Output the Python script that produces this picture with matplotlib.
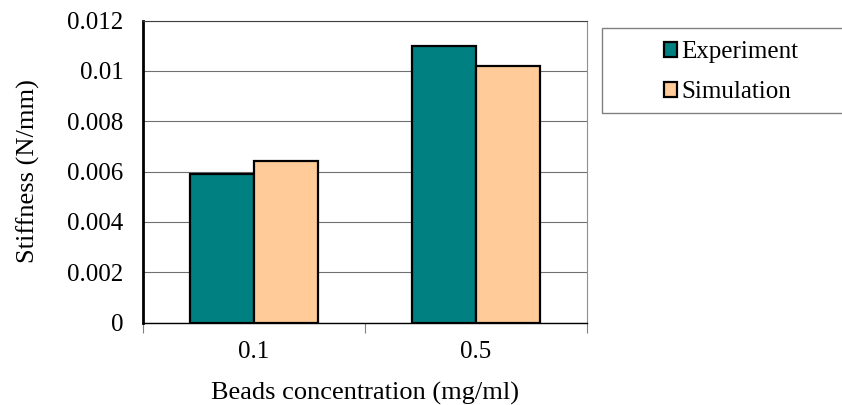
import matplotlib
matplotlib.use("Agg")
import matplotlib.pyplot as plt
import numpy as np
from matplotlib.patches import Rectangle

categories = ["0.1", "0.5"]
experiment = [0.0059, 0.0110]
simulation = [0.0064, 0.0102]
series_names = ["Experiment", "Simulation"]
yticks = [0, 0.002, 0.004, 0.006, 0.008, 0.01, 0.012]
ytick_labels = ["0", "0.002", "0.004", "0.006", "0.008", "0.01", "0.012"]

plt.rcParams['font.family'] = ['Liberation Serif', 'DejaVu Serif']
W, H = 842, 405
fig = plt.figure(figsize=(W/100, H/100), dpi=100)
L, R, T, B = 143, 587, 20.5, 322.5
ax = fig.add_axes([L/W, 1-B/H, (R-L)/W, (B-T)/H])

x = np.arange(len(categories))
bw = 64/222
ax.bar(x - bw/2, experiment, bw, color='#008080', edgecolor='black', linewidth=1.6, zorder=3, label=series_names[0])
ax.bar(x + bw/2, simulation, bw, color='#FFCC99', edgecolor='black', linewidth=1.6, zorder=3, label=series_names[1])

ax.set_xlim(-0.5, len(categories) - 0.5)
ax.set_ylim(0, 0.012)
ax.set_yticks(yticks)
ax.set_yticklabels(ytick_labels, fontsize=18)
ax.set_xticks(x)
ax.set_xticklabels(categories, fontsize=18)
ax.tick_params(axis='x', length=0, pad=13)
ax.tick_params(axis='y', length=0, pad=14)
ax.set_xticks(np.arange(-0.5, len(categories), 1), minor=True)
ax.tick_params(axis='x', which='minor', length=7, color='#808080', width=0.8)
ax.yaxis.grid(True, color='#707070', linewidth=0.8, zorder=0)
ax.set_axisbelow(True)
ax.spines['top'].set_color('#404040'); ax.spines['top'].set_linewidth(0.8)
ax.spines['right'].set_color('#909090'); ax.spines['right'].set_linewidth(0.8)
ax.spines['left'].set_color('black'); ax.spines['left'].set_linewidth(2)
ax.spines['bottom'].set_color('black'); ax.spines['bottom'].set_linewidth(1)

ax.set_ylabel("Stiffness (N/mm)", fontsize=19, labelpad=20)
ax.set_xlabel("Beads concentration (mg/ml)", fontsize=19, labelpad=14)

# legend frame
fig.patches.append(Rectangle((602/W, 1-113/H), 260/W, 85/H, transform=fig.transFigure,
                             fill=False, edgecolor='#808080', linewidth=1))
leg = fig.legend(loc='center left', bbox_to_anchor=(651/W, 1-72/H), frameon=False,
                 fontsize=18, handlelength=0.55, handleheight=0.55, handletextpad=0.15,
                 labelspacing=0.72, borderpad=0)

fig.savefig("out.png", dpi=100)
